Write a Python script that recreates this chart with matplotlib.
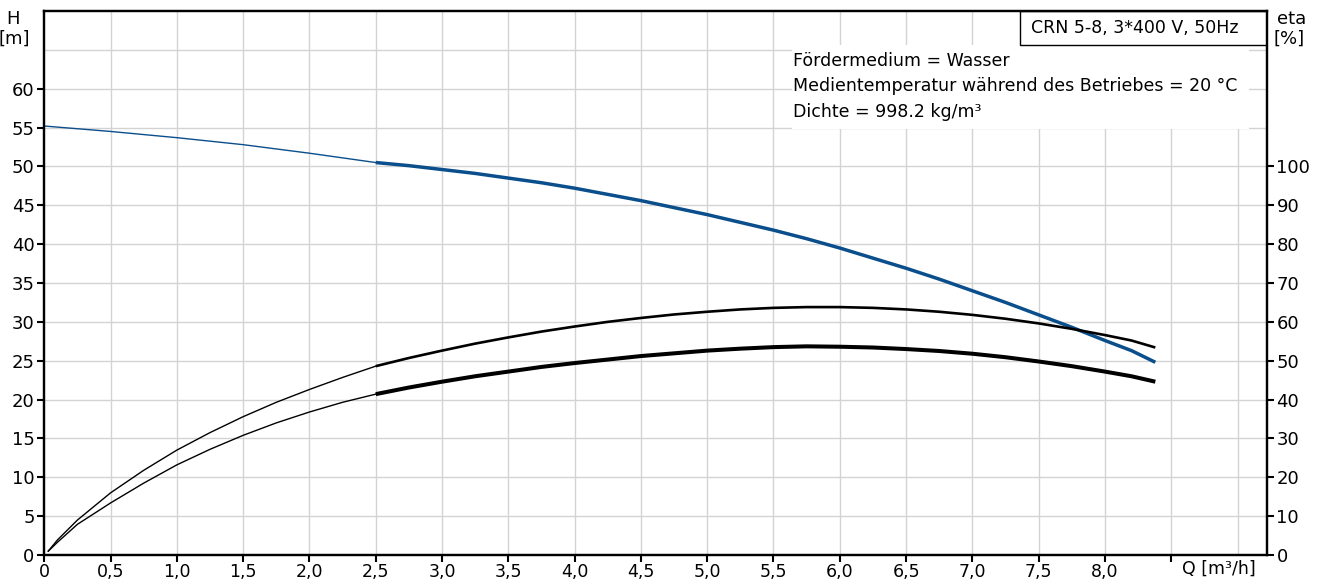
import numpy as np
import matplotlib
matplotlib.use("Agg")
import matplotlib.pyplot as plt
from matplotlib.patches import Rectangle

plt.rcParams["font.family"] = ["DejaVu Sans"]

# pump head curve H [m]
q_h_thin = [0.0, 0.5, 1.0, 1.5, 2.0, 2.5]
h_thin = [55.2, 54.5, 53.7, 52.8, 51.7, 50.5]
q_h = [2.5, 2.75, 3.0, 3.25, 3.5, 3.75, 4.0, 4.25, 4.5, 4.75, 5.0, 5.25, 5.5,
       5.75, 6.0, 6.25, 6.5, 6.75, 7.0, 7.25, 7.5, 7.75, 8.0, 8.2, 8.38]
h_vals = [50.5, 50.1, 49.6, 49.1, 48.5, 47.9, 47.2, 46.4, 45.6, 44.7, 43.8, 42.8, 41.8,
          40.7, 39.5, 38.2, 36.9, 35.5, 34.0, 32.5, 30.9, 29.3, 27.6, 26.3, 24.8]

# efficiency curves eta [%]
q_eta_thin = [0.03, 0.1, 0.25, 0.5, 0.75, 1.0, 1.25, 1.5, 1.75, 2.0, 2.25, 2.5]
eta_up_thin = [1.0, 3.9, 9.0, 16.0, 21.8, 27.0, 31.5, 35.6, 39.3, 42.6, 45.7, 48.6]
eta_lo_thin = [1.0, 3.3, 7.9, 13.4, 18.5, 23.2, 27.2, 30.8, 34.0, 36.8, 39.3, 41.4]
q_eta = q_h
eta_up = [48.6, 50.7, 52.6, 54.4, 56.0, 57.5, 58.8, 60.0, 61.0, 61.9, 62.6, 63.2, 63.6,
          63.8, 63.8, 63.6, 63.2, 62.6, 61.8, 60.8, 59.6, 58.2, 56.6, 55.2, 53.4]
eta_lo = [41.4, 43.1, 44.6, 46.0, 47.2, 48.4, 49.4, 50.3, 51.2, 51.9, 52.6, 53.1, 53.5,
          53.7, 53.6, 53.4, 53.0, 52.5, 51.8, 50.9, 49.8, 48.6, 47.2, 46.0, 44.6]

x_ticks = [0, 0.5, 1.0, 1.5, 2.0, 2.5, 3.0, 3.5, 4.0, 4.5, 5.0, 5.5, 6.0, 6.5, 7.0, 7.5, 8.0, 8.5]
x_labels = ["0", "0,5", "1,0", "1,5", "2,0", "2,5", "3,0", "3,5", "4,0", "4,5",
            "5,0", "5,5", "6,0", "6,5", "7,0", "7,5", "8,0", ""]
h_ticks = list(range(0, 65, 5))
eta_ticks = list(range(0, 110, 10))

info_lines = ["Fördermedium = Wasser",
              "Medientemperatur während des Betriebes = 20 °C",
              "Dichte = 998.2 kg/m³"]
title = "CRN 5-8, 3*400 V, 50Hz"

W, H = 1318, 580
blue = "#0a4e8c"
fs = 13
fs_info = 12.5

fig = plt.figure(figsize=(W / 100, H / 100), dpi=100)
x0, x1, y0, y1 = 44.3, 1266.7, 555, 11
ax = fig.add_axes([x0 / W, 1 - y0 / H, (x1 - x0) / W, (y0 - y1) / H])
ax.set_xlim(0, 9.22)
ax.set_ylim(0, 70)

# grid
for gx in np.arange(0.5, 9.01, 0.5):
    ax.axvline(gx, color="#d3d3d3", lw=1.0, zorder=0.5)
for gy in range(5, 70, 5):
    ax.axhline(gy, color="#d3d3d3", lw=1.0, zorder=0.5)

ax.set_xticks(x_ticks)
ax.set_xticklabels(x_labels)
ax.set_yticks(h_ticks)
ax.tick_params(axis="y", direction="out", length=5, width=1.5, labelsize=fs, pad=2)
ax.tick_params(axis="x", direction="out", length=5, width=1.5, labelsize=12.5, pad=0.5)
for s in ax.spines.values():
    s.set_linewidth(1.6)

ax2 = ax.twinx()
ax2.set_ylim(0, 140)
ax2.set_yticks(eta_ticks)
ax2.tick_params(axis="y", direction="out", length=5, width=1.5, labelsize=fs, pad=2)
for s in ax2.spines.values():
    s.set_linewidth(1.6)

# info boxes
ax.add_patch(Rectangle((5.64, 54.8), 9.09 - 5.64, 65.6 - 54.8, facecolor="white",
                       edgecolor="none", zorder=1))
ax.add_patch(Rectangle((7.36, 65.6), 9.22 - 7.36, 70 - 65.6, facecolor="white",
                       edgecolor="black", lw=1.0, zorder=1))

# curves
ax.plot(q_h_thin, h_thin, color=blue, lw=1.0, zorder=3)
ax.plot(q_h, h_vals, color=blue, lw=2.5, zorder=3, solid_capstyle="butt")
ax2.plot(q_eta_thin, eta_up_thin, color="black", lw=1.0)
ax2.plot(q_eta_thin, eta_lo_thin, color="black", lw=1.0)
ax2.plot(q_eta, eta_up, color="black", lw=1.9, solid_capstyle="butt")
ax2.plot(q_eta, eta_lo, color="black", lw=2.9, solid_capstyle="butt")

# texts
fig.text(13 / W, 1 - 19 / H, "H", ha="center", va="center", fontsize=fs)
fig.text(14 / W, 1 - 39 / H, "[m]", ha="center", va="center", fontsize=fs)
fig.text(1292 / W, 1 - 19 / H, "eta", ha="center", va="center", fontsize=fs)
fig.text(1289 / W, 1 - 39 / H, "[%]", ha="center", va="center", fontsize=fs)
fig.text(1219 / W, 1 - 569 / H, "Q [m³/h]", ha="center", va="center", fontsize=12.5)
fig.text(1135 / W, 1 - 28 / H, title, ha="center", va="center", fontsize=fs_info)
for i, line in enumerate(info_lines):
    fig.text(793 / W, 1 - (61 + 25.5 * i) / H, line, ha="left", va="center", fontsize=fs_info)

fig.savefig("out.png", dpi=100)
